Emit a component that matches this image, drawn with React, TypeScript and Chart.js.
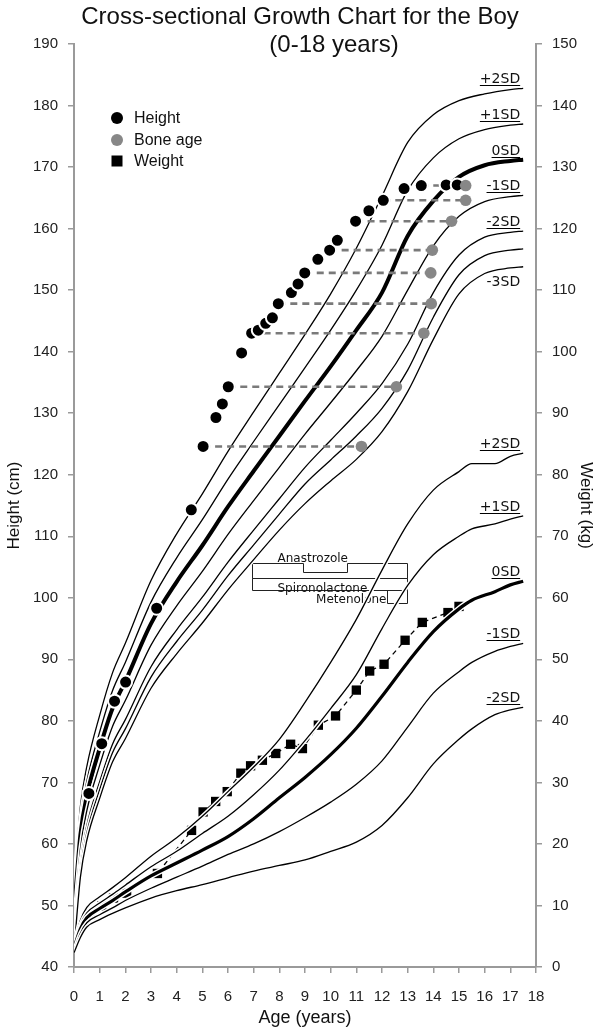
import React, { useEffect, useRef } from 'react';
import { Chart, registerables } from 'chart.js';

Chart.register(...registerables);

// ---------------- Height reference curves (cm) ----------------
const HEIGHT_CURVE_AGES = [0, 0.25, 0.5, 1, 1.5, 2, 3, 4, 5, 6, 7, 8, 9, 10, 11, 12, 13, 14, 15, 16, 17, 17.5];
const HEIGHT_PLUS2SD = [52.7, 66.1, 72.6, 80.9, 87.8, 92.6, 102.8, 110.4, 116.9, 123.8, 130.2, 136.5, 142.8, 149.4, 156.8, 165.3, 174.0, 178.5, 180.8, 181.9, 182.6, 182.8];
const HEIGHT_PLUS1SD = [50.7, 63.8, 70.2, 78.2, 84.9, 89.5, 99.3, 106.5, 112.7, 119.3, 125.4, 131.4, 137.4, 143.5, 150.0, 157.3, 166.2, 171.5, 174.6, 176.1, 176.8, 177.0];
const HEIGHT_0SD = [48.7, 61.5, 67.8, 75.5, 82.0, 86.4, 95.8, 102.6, 108.5, 114.8, 120.6, 126.3, 132.0, 137.6, 143.5, 149.6, 158.8, 164.5, 168.4, 170.3, 171.0, 171.2];
const HEIGHT_MINUS1SD = [46.7, 59.2, 65.4, 72.8, 79.1, 83.3, 92.3, 98.7, 104.3, 110.3, 115.8, 121.2, 126.6, 131.7, 136.9, 142.5, 150.0, 157.2, 162.0, 164.4, 165.2, 165.4];
const HEIGHT_MINUS2SD = [44.7, 56.9, 63.0, 70.1, 76.2, 80.2, 88.8, 94.8, 100.1, 105.8, 111.0, 116.1, 121.2, 125.6, 130.0, 134.8, 141.2, 149.6, 155.7, 158.6, 159.4, 159.6];
const HEIGHT_MINUS25SD = [43.7, 55.8, 61.8, 68.8, 74.8, 78.7, 87.1, 92.9, 98.0, 103.6, 108.6, 113.6, 118.5, 122.4, 126.3, 130.8, 137.0, 145.6, 152.5, 155.6, 156.5, 156.7];
const HEIGHT_MINUS3SD = [42.7, 54.6, 60.6, 67.4, 73.3, 77.1, 85.3, 90.9, 95.9, 101.3, 106.2, 111.0, 115.3, 119.0, 122.5, 127.0, 133.5, 142.0, 149.4, 152.7, 153.6, 153.8];

// ---------------- Weight reference curves (kg) ----------------
const WEIGHT_CURVE_AGES = [0, 0.25, 0.5, 1, 1.5, 2, 3, 4, 5, 6, 7, 8, 9, 10, 11, 12, 13, 14, 15, 15.5, 16.4, 17, 17.5];
const WEIGHT_PLUS2SD = [3.8, 7.6, 9.7, 11.4, 12.9, 14.5, 18.0, 21.0, 24.5, 28.5, 32.5, 37.0, 43.0, 49.5, 56.5, 64.5, 72.0, 77.5, 80.5, 81.8, 81.8, 83.0, 83.5];
const WEIGHT_PLUS1SD = [3.4, 6.9, 8.8, 10.4, 11.8, 13.3, 16.3, 18.8, 21.7, 24.5, 28.0, 32.0, 36.8, 42.0, 47.5, 55.0, 62.0, 67.0, 70.0, 71.2, 72.0, 72.8, 73.3];
const WEIGHT_0SD = [3.1, 6.2, 8.0, 9.5, 10.8, 12.2, 14.8, 16.9, 19.0, 21.2, 24.1, 27.5, 30.8, 34.5, 38.8, 44.0, 49.5, 54.5, 58.2, 59.6, 61.0, 62.1, 62.7];
const WEIGHT_MINUS1SD = [2.7, 5.5, 7.2, 8.5, 9.6, 10.8, 12.8, 14.6, 16.4, 18.3, 20.0, 22.0, 24.3, 26.8, 29.7, 33.5, 39.0, 44.5, 48.0, 49.5, 51.3, 52.1, 52.6];
const WEIGHT_MINUS2SD = [2.3, 4.8, 6.5, 7.7, 8.7, 9.6, 11.2, 12.4, 13.4, 14.5, 15.6, 16.5, 17.4, 18.8, 20.3, 23.0, 27.5, 33.0, 37.0, 38.7, 41.0, 41.8, 42.2];

// ---------------- Patient measurements ----------------
const PATIENT_HEIGHT_AGES = [0.58, 1.08, 1.58, 2.01, 3.22, 4.57, 5.03, 5.53, 5.78, 6.01, 6.53, 6.92, 7.18, 7.47, 7.73, 7.96, 8.47, 8.73, 8.99, 9.5, 9.96, 10.26, 10.97, 11.49, 12.05, 12.86, 13.53, 14.5, 14.93];
const PATIENT_HEIGHTS = [68.2, 76.3, 83.2, 86.3, 98.3, 114.3, 124.6, 129.3, 131.5, 134.3, 139.8, 143.0, 143.5, 144.6, 145.5, 147.8, 149.6, 151.0, 152.8, 155.0, 156.5, 158.1, 161.2, 162.9, 164.6, 166.5, 167.0, 167.1, 167.1];

const BONE_CHRONO_AGES = [5.03, 6.01, 6.92, 7.96, 8.99, 9.96, 10.97, 12.05, 13.53];
const BONE_AGES = [11.2, 12.56, 13.63, 13.92, 13.9, 13.96, 14.71, 15.26, 15.26];
const BONE_HEIGHTS = [124.6, 134.3, 143.0, 147.8, 152.8, 156.5, 161.2, 164.6, 167.0];

const PATIENT_WEIGHT_AGES = [0.63, 1.08, 1.54, 2.05, 3.25, 4.58, 5.03, 5.52, 5.97, 6.5, 6.88, 7.34, 7.86, 8.44, 8.9, 9.52, 10.19, 11.0, 11.52, 12.08, 12.9, 13.57, 14.57, 15.0];
const PATIENT_WEIGHTS = [8.5, 9.9, 11.2, 12.0, 15.2, 22.2, 25.2, 26.9, 28.5, 31.5, 32.7, 33.6, 34.7, 36.2, 35.5, 39.3, 40.8, 45.0, 48.1, 49.2, 53.1, 56.0, 57.6, 58.6];

// ---------------- Treatments (age in years, level on the cm axis) ----------------
const TREATMENT_NAMES = ['Anastrozole', 'Spironolactone', 'Metenolone'];
const TREATMENT_START = [6.92, 6.92, 12.18];
const TREATMENT_END = [12.96, 12.96, 12.96];
const TREATMENT_TOP = [105.6, 103.2, 101.3];
const TREATMENT_BOTTOM = [103.2, 101.3, 99.1];
const ANASTROZOLE_PAUSE = [8.92, 10.62, 104.2]; // start age, end age, level

// ---------------- Axes ----------------
const AGE_MIN = 0;
const AGE_MAX = 18;
const HEIGHT_MIN = 40;
const HEIGHT_MAX = 190;
const WEIGHT_MIN = 0;
const WEIGHT_MAX = 150;
const TICK_STEP = 10;

const SANS = '"Liberation Sans", Arial, Helvetica, sans-serif';
const VERD = '"DejaVu Sans", Verdana, sans-serif';

type Curve = { ages: number[]; values: number[]; axis: string; label: string; thick: boolean; below?: boolean };

const CURVES: Curve[] = [
  { ages: HEIGHT_CURVE_AGES, values: HEIGHT_PLUS2SD, axis: 'y', label: '+2SD', thick: false },
  { ages: HEIGHT_CURVE_AGES, values: HEIGHT_PLUS1SD, axis: 'y', label: '+1SD', thick: false },
  { ages: HEIGHT_CURVE_AGES, values: HEIGHT_0SD, axis: 'y', label: '0SD', thick: true },
  { ages: HEIGHT_CURVE_AGES, values: HEIGHT_MINUS1SD, axis: 'y', label: '-1SD', thick: false },
  { ages: HEIGHT_CURVE_AGES, values: HEIGHT_MINUS2SD, axis: 'y', label: '-2SD', thick: false },
  { ages: HEIGHT_CURVE_AGES, values: HEIGHT_MINUS25SD, axis: 'y', label: '', thick: false },
  { ages: HEIGHT_CURVE_AGES, values: HEIGHT_MINUS3SD, axis: 'y', label: '-3SD', thick: false, below: true },
  { ages: WEIGHT_CURVE_AGES, values: WEIGHT_PLUS2SD, axis: 'yW', label: '+2SD', thick: false },
  { ages: WEIGHT_CURVE_AGES, values: WEIGHT_PLUS1SD, axis: 'yW', label: '+1SD', thick: false },
  { ages: WEIGHT_CURVE_AGES, values: WEIGHT_0SD, axis: 'yW', label: '0SD', thick: true },
  { ages: WEIGHT_CURVE_AGES, values: WEIGHT_MINUS1SD, axis: 'yW', label: '-1SD', thick: false },
  { ages: WEIGHT_CURVE_AGES, values: WEIGHT_MINUS2SD, axis: 'yW', label: '-2SD', thick: false },
];

function buildDatasets() {
  const ds: any[] = [];
  // weight points (bottom layer)
  ds.push({
    data: PATIENT_WEIGHT_AGES.map((a, i) => ({ x: a, y: PATIENT_WEIGHTS[i] })),
    yAxisID: 'yW',
    showLine: true,
    borderColor: '#000',
    borderWidth: 1.3,
    borderDash: [5, 4],
    backgroundColor: '#000',
    pointStyle: 'rect',
    pointRadius: 6.6,
    pointBorderWidth: 0,
    pointBackgroundColor: '#000',
    order: 300,
  });
  CURVES.forEach((c, i) => {
    const data = c.ages.map((a, k) => ({ x: a, y: c.values[k] }));
    const w = c.thick ? (c.axis === 'y' ? 4 : 3.2) : 1.3;
    ds.push({
      data, yAxisID: c.axis, showLine: true, pointRadius: 0, borderColor: '#fff',
      borderWidth: w + 3, cubicInterpolationMode: 'monotone', order: 200 - 2 * i,
    });
    ds.push({
      data, yAxisID: c.axis, showLine: true, pointRadius: 0, borderColor: '#000',
      borderWidth: w, cubicInterpolationMode: 'monotone', order: 199 - 2 * i,
    });
  });
  // dashed links height -> bone age
  const links: any[] = [];
  BONE_CHRONO_AGES.forEach((a, i) => {
    links.push({ x: a, y: BONE_HEIGHTS[i] }, { x: BONE_AGES[i], y: BONE_HEIGHTS[i] }, { x: BONE_AGES[i], y: null });
  });
  ds.push({
    data: links, yAxisID: 'y', showLine: true, spanGaps: false, pointRadius: 0,
    borderColor: '#7a7a7a', borderWidth: 2.6, borderDash: [7, 5], order: 40,
  });
  ds.push({
    data: PATIENT_HEIGHT_AGES.map((a, i) => ({ x: a, y: PATIENT_HEIGHTS[i] })),
    yAxisID: 'y', showLine: false, pointStyle: 'circle', pointRadius: 6.5,
    pointBackgroundColor: '#000', pointBorderColor: '#fff', pointBorderWidth: 2, order: 20,
  });
  ds.push({
    data: BONE_AGES.map((a, i) => ({ x: a, y: BONE_HEIGHTS[i] })),
    yAxisID: 'y', showLine: false, pointStyle: 'circle', pointRadius: 5.8,
    pointBackgroundColor: '#878787', pointBorderColor: '#878787', pointBorderWidth: 0, order: 10,
  });
  return ds;
}

const overlayPlugin = {
  id: 'overlay',
  beforeDatasetsDraw(chart: any) {
    const { ctx, scales } = chart;
    const xs = scales.x;
    const ys = scales.y;
    ctx.save();
    ctx.strokeStyle = '#222';
    ctx.lineWidth = 1;
    ctx.fillStyle = '#111';
    ctx.font = `12px ${VERD}`;
    TREATMENT_NAMES.forEach((name, i) => {
      const x0 = Math.round(xs.getPixelForValue(TREATMENT_START[i])) + 0.5;
      const x1 = Math.round(xs.getPixelForValue(TREATMENT_END[i])) + 0.5;
      const y0 = Math.round(ys.getPixelForValue(TREATMENT_TOP[i])) + 0.5;
      const y1 = Math.round(ys.getPixelForValue(TREATMENT_BOTTOM[i])) + 0.5;
      ctx.beginPath();
      if (i === 0) {
        const p0 = Math.round(xs.getPixelForValue(ANASTROZOLE_PAUSE[0])) + 0.5;
        const p1 = Math.round(xs.getPixelForValue(ANASTROZOLE_PAUSE[1])) + 0.5;
        const py = Math.round(ys.getPixelForValue(ANASTROZOLE_PAUSE[2])) + 0.5;
        ctx.moveTo(x0, y1);
        ctx.lineTo(x0, y0);
        ctx.lineTo(p0, y0);
        ctx.lineTo(p0, py);
        ctx.lineTo(p1, py);
        ctx.lineTo(p1, y0);
        ctx.lineTo(x1, y0);
        ctx.lineTo(x1, y1);
        ctx.closePath();
      } else {
        ctx.rect(x0, y0, x1 - x0, y1 - y0);
      }
      ctx.stroke();
      ctx.textBaseline = 'alphabetic';
      if (i === 0) {
        ctx.textAlign = 'left';
        ctx.fillText(name, x0 + 25, y0 - 2);
      } else if (i === 1) {
        ctx.textAlign = 'left';
        ctx.fillText(name, x0 + 25, y1 + 1);
      } else {
        ctx.textAlign = 'right';
        ctx.fillText(name, x0 - 1, y1 - 1);
      }
    });
    ctx.restore();
  },
  afterDraw(chart: any) {
    const { ctx, scales } = chart;
    const xs = scales.x;
    ctx.save();
    // title
    ctx.fillStyle = '#111';
    ctx.textAlign = 'center';
    ctx.textBaseline = 'middle';
    ctx.font = `24px ${SANS}`;
    ctx.fillText('Cross-sectional Growth Chart for the Boy', 300, 17);
    ctx.fillText('(0-18 years)', 334, 45);

    // SD labels
    ctx.font = `14px ${VERD}`;
    ctx.textAlign = 'right';
    ctx.lineWidth = 1;
    ctx.strokeStyle = '#000';
    CURVES.forEach((c) => {
      if (!c.label) return;
      const n = c.ages.length - 1;
      const px = xs.getPixelForValue(c.ages[n]) - 3;
      const py = scales[c.axis].getPixelForValue(c.values[n]);
      const w = ctx.measureText(c.label).width;
      ctx.textBaseline = 'alphabetic';
      if (c.below) {
        ctx.fillText(c.label, px, py + 19);
      } else {
        const base = py - 5;
        ctx.fillText(c.label, px, base);
        ctx.beginPath();
        ctx.moveTo(px - w, Math.round(base + 2) + 0.5);
        ctx.lineTo(px, Math.round(base + 2) + 0.5);
        ctx.stroke();
      }
    });

    // legend
    const lx = 117;
    const ly = [118, 140, 161];
    ctx.fillStyle = '#000';
    ctx.beginPath();
    ctx.arc(lx, ly[0], 6, 0, Math.PI * 2);
    ctx.fill();
    ctx.fillStyle = '#878787';
    ctx.beginPath();
    ctx.arc(lx, ly[1], 6, 0, Math.PI * 2);
    ctx.fill();
    ctx.fillStyle = '#000';
    ctx.fillRect(lx - 5.5, ly[2] - 5.5, 11, 11);
    ctx.font = `16px ${SANS}`;
    ctx.textAlign = 'left';
    ctx.textBaseline = 'middle';
    ctx.fillStyle = '#111';
    ctx.fillText('Height', 134, ly[0] + 1);
    ctx.fillText('Bone age', 134, ly[1] + 1);
    ctx.fillText('Weight', 134, ly[2] + 1);
    ctx.restore();
  },
};

function axisCommon() {
  return {
    grid: { drawOnChartArea: false, drawTicks: true, tickLength: 6, color: '#9a9a9a', lineWidth: 1.5 },
    border: { display: true, color: '#9a9a9a', width: 2 },
  };
}

export default function App() {
  const ref = useRef<HTMLCanvasElement>(null);
  useEffect(() => {
    if (!ref.current) return;
    const chart = new Chart(ref.current, {
      type: 'scatter',
      data: { datasets: buildDatasets() },
      options: {
        animation: false,
        responsive: false,
        devicePixelRatio: 1,
        events: [],
        layout: { padding: { top: 44, left: 0, right: 0, bottom: 0 } },
        plugins: { legend: { display: false }, tooltip: { enabled: false }, title: { display: false } },
        scales: {
          x: {
            type: 'linear',
            min: AGE_MIN,
            max: AGE_MAX,
            ...axisCommon(),
            ticks: { stepSize: 1, autoSkip: false, maxRotation: 0, padding: 15, color: '#222', font: { family: SANS, size: 15 } },
            title: { display: true, text: 'Age (years)', color: '#111', font: { family: SANS, size: 18 }, padding: { top: 0, bottom: 5 } },
            afterFit: (s: any) => { s.height = 67; },
          },
          y: {
            type: 'linear',
            position: 'left',
            min: HEIGHT_MIN,
            max: HEIGHT_MAX,
            ...axisCommon(),
            ticks: { stepSize: TICK_STEP, padding: 10, color: '#222', font: { family: SANS, size: 15 } },
            title: { display: true, text: 'Height (cm)', color: '#111', font: { family: SANS, size: 17 }, padding: { top: 4, bottom: 0 } },
            afterFit: (s: any) => { s.width = 74; },
          },
          yW: {
            type: 'linear',
            position: 'right',
            min: WEIGHT_MIN,
            max: WEIGHT_MAX,
            ...axisCommon(),
            ticks: { stepSize: TICK_STEP, padding: 10, color: '#222', font: { family: SANS, size: 15 } },
            title: { display: true, text: 'Weight (kg)', color: '#111', font: { family: SANS, size: 17 }, padding: { top: 4, bottom: 0 } },
            afterFit: (s: any) => { s.width = 64; },
          },
        },
      } as any,
      plugins: [overlayPlugin],
    });
    return () => chart.destroy();
  }, []);
  return (
    <div style={{ position: 'absolute', left: 0, top: 0, width: 600, height: 1034, background: '#fff' }}>
      <canvas ref={ref} width={600} height={1034} style={{ display: 'block', width: 600, height: 1034 }} />
    </div>
  );
}
